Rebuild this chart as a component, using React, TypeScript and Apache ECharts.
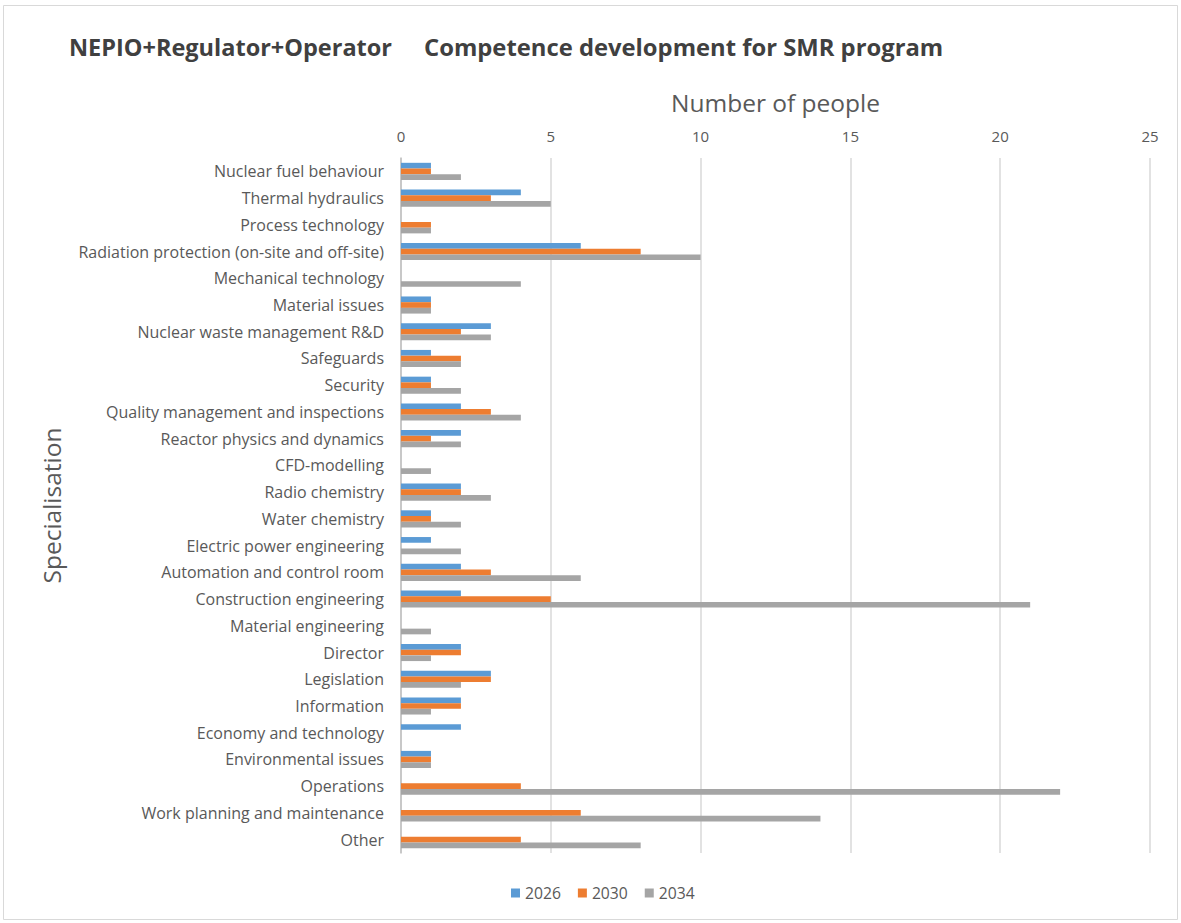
import React, { useEffect, useRef } from "react";
import * as echarts from "echarts";

const categories = [
  "Nuclear fuel behaviour",
  "Thermal hydraulics",
  "Process technology",
  "Radiation protection (on-site and off-site)",
  "Mechanical technology",
  "Material issues",
  "Nuclear waste management R&D",
  "Safeguards",
  "Security",
  "Quality management and inspections",
  "Reactor physics and dynamics",
  "CFD-modelling",
  "Radio chemistry",
  "Water chemistry",
  "Electric power engineering",
  "Automation and control room",
  "Construction engineering",
  "Material engineering",
  "Director",
  "Legislation",
  "Information",
  "Economy and technology",
  "Environmental issues",
  "Operations",
  "Work planning and maintenance",
  "Other",
];

const seriesNames = ["2026", "2030", "2034"];
const values2026 = [1, 4, 0, 6, 0, 1, 3, 1, 1, 2, 2, 0, 2, 1, 1, 2, 2, 0, 2, 3, 2, 2, 1, 0, 0, 0];
const values2030 = [1, 3, 1, 8, 0, 1, 2, 2, 1, 3, 1, 0, 2, 1, 0, 3, 5, 0, 2, 3, 2, 0, 1, 4, 6, 4];
const values2034 = [2, 5, 1, 10, 4, 1, 3, 2, 2, 4, 2, 1, 3, 2, 2, 6, 21, 1, 1, 2, 1, 0, 1, 22, 14, 8];
const colors = ["#5B9BD5", "#ED7D31", "#A5A5A5"];

const FONT = "'Open Sans', 'Noto Sans', sans-serif";

export default function App() {
  const ref = useRef<HTMLDivElement>(null);
  useEffect(() => {
    if (!ref.current) return;
    const chart = echarts.init(ref.current, undefined, { renderer: "svg" });
    const data = [values2026, values2030, values2034];
    chart.setOption({
      animation: false,
      backgroundColor: "#ffffff",
      textStyle: { fontFamily: FONT },
      title: [
        {
          text: "NEPIO+Regulator+Operator",
          left: 64,
          top: 30,
          textStyle: { fontSize: 23.5, fontWeight: "bold", color: "#404040", fontFamily: FONT },
        },
        {
          text: "Competence development for SMR program",
          left: 419,
          top: 30,
          textStyle: { fontSize: 23.8, fontWeight: "bold", color: "#404040", fontFamily: FONT },
        },
      ],
      graphic: [
        {
          type: "rect",
          shape: { x: 3.5, y: 5.5, width: 1174, height: 914 },
          style: { fill: "none", stroke: "#d9d9d9", lineWidth: 1 },
          silent: true,
        },
      ],
      legend: {
        bottom: 17,
        left: 506,
        itemWidth: 9,
        itemHeight: 9,
        itemGap: 17,
        icon: "rect",
        textStyle: { fontSize: 15.7, color: "#595959", fontFamily: FONT },
        data: seriesNames,
      },
      grid: { left: 401, right: 31, top: 158, bottom: 70, containLabel: false },
      xAxis: {
        type: "value",
        position: "top",
        min: 0,
        max: 25,
        interval: 5,
        name: "Number of people",
        nameLocation: "middle",
        nameGap: 43,
        nameTextStyle: { fontSize: 24.5, color: "#595959", fontFamily: FONT },
        axisLine: { show: false },
        axisTick: { show: false },
        axisLabel: { fontSize: 15, color: "#595959", margin: 15, fontFamily: FONT },
        splitLine: { show: true, lineStyle: { color: "#d9d9d9", width: 1.5 } },
      },
      yAxis: {
        type: "category",
        inverse: true,
        data: categories,
        name: "Specialisation",
        nameLocation: "middle",
        nameGap: 337,
        nameRotate: 90,
        nameTextStyle: { fontSize: 24.5, color: "#595959", fontFamily: FONT },
        axisLine: { show: true, lineStyle: { color: "#bfbfbf", width: 1.5 } },
        axisTick: { show: false },
        axisLabel: { fontSize: 16, color: "#595959", margin: 17, fontFamily: FONT },
      },
      series: seriesNames.map((name, i) => ({
        name,
        type: "bar",
        data: data[i],
        barGap: "0%",
        barCategoryGap: "36%",
        itemStyle: { color: colors[i] },
      })),
    });
    return () => chart.dispose();
  }, []);
  return (
    <div
      ref={ref}
      style={{ position: "absolute", left: 0, top: 0, width: 1181, height: 923 }}
    />
  );
}
